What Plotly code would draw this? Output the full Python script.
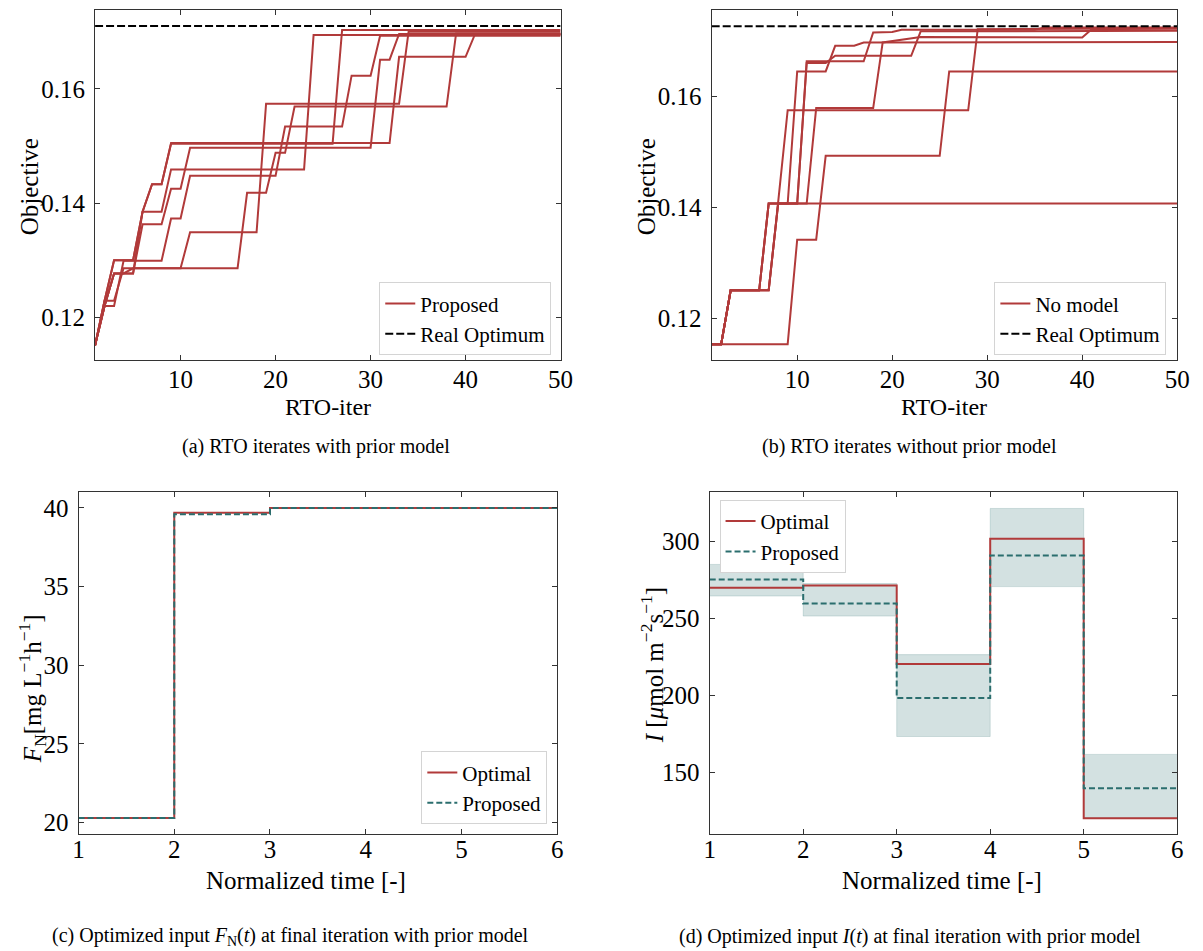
import plotly.graph_objects as go

# ---------------- data ----------------
# (a) RTO iterates with prior model: vertices (iteration, best objective) of each run
a1_iter = [1, 2, 3, 4, 5, 16, 17, 19, 20, 21, 22, 38, 39, 50]
a1_obj = [.1151, .1220, .1277, .1277, .1286, .1286, .1418, .1418, .1488, .1488, .1569, .1569, .1697, .1697]
a2_iter = [1, 2, 3, 4, 10, 11, 18, 19, 33, 34, 50]
a2_obj = [.1151, .1229, .1229, .1286, .1286, .1349, .1349, .1574, .1574, .1700, .1700]
a3_iter = [1, 2, 3, 5, 6, 8, 9, 23, 24, 50]
a3_obj = [.1151, .1229, .1300, .1300, .1385, .1385, .1459, .1459, .1694, .1694]
a4_iter = [1, 2, 3, 4, 8, 9, 10, 11, 20, 21, 27, 28, 30, 31, 50]
a4_obj = [.1151, .1220, .1220, .1299, .1299, .1373, .1373, .1448, .1448, .1534, .1534, .1623, .1623, .1693, .1693]
a5_iter = [1, 2, 3, 5, 6, 7, 8, 9, 26, 27, 50]
a5_obj = [.1151, .1229, .1300, .1300, .1385, .1433, .1433, .1504, .1504, .1703, .1703]
a6_iter = [1, 2, 3, 5, 6, 7, 8, 9, 32, 33, 40, 41, 50]
a6_obj = [.1151, .1220, .1277, .1277, .1385, .1433, .1433, .1505, .1505, .1656, .1656, .1696, .1696]
a7_iter = [1, 2, 3, 5, 6, 8, 9, 10, 11, 30, 31, 32, 33, 50]
a7_obj = [.1151, .1220, .1277, .1277, .1363, .1363, .1425, .1425, .1497, .1497, .1651, .1651, .1696, .1696]
a_real_opt = 0.1710

# (b) RTO iterates without prior model
b1_iter = [1, 2, 3, 6, 7, 50]
b1_obj = [.1154, .1154, .1251, .1251, .1407, .1407]
b2_iter = [1, 2, 3, 7, 8, 9, 28, 29, 50]
b2_obj = [.1154, .1154, .1251, .1251, .1410, .1575, .1575, .1721, .1722]
b3_iter = [1, 9, 10, 12, 13, 25, 26, 50]
b3_obj = [.1154, .1154, .1342, .1342, .1493, .1493, .1645, .1645]
b4_iter = [1, 2, 3, 6, 7, 9, 10, 13, 14, 16, 17, 50]
b4_obj = [.1154, .1154, .1251, .1251, .1407, .1407, .1645, .1645, .1691, .1691, .1697, .1698]
b5_iter = [1, 2, 3, 7, 8, 11, 12, 18, 19, 23, 40, 41, 50]
b5_obj = [.1154, .1154, .1251, .1251, .1407, .1407, .1579, .1579, .1697, .1707, .1706, .1721, .1722]
b6_iter = [1, 2, 3, 6, 7, 10, 11, 17, 18, 20, 21, 35, 36, 50]
b6_obj = [.1154, .1154, .1251, .1251, .1407, .1407, .1663, .1663, .1715, .1716, .1720, .1720, .1724, .1724]
b7_iter = [1, 2, 3, 7, 8, 10, 11, 13, 14, 22, 23, 50]
b7_obj = [.1154, .1154, .1251, .1251, .1407, .1407, .1660, .1660, .1673, .1673, .1717, .1718]
b_real_opt = 0.1726

# (c) optimized input F_N(t)
time_grid = [1, 2, 3, 4, 5, 6]
c_optimal = [20.3, 39.7, 40.0, 40.0, 40.0]
c_proposed = [20.3, 39.6, 40.0, 40.0, 40.0]

# (d) optimized input I(t)
d_optimal = [269.8, 271.3, 220.3, 301.5, 120.3]
d_proposed = [275.1, 259.5, 198.3, 290.7, 139.7]
d_lower = [264.4, 251.4, 173.3, 270.5, 120.5]
d_upper = [284.9, 272.5, 226.4, 321.2, 161.7]

# ---------------- style ----------------
W, H = 1203, 951
RED = "#b13a3a"
TEAL = "#2b6e6e"
BAND = "rgba(47,111,111,0.21)"
FONT = "Liberation Serif, Times New Roman, serif"
TICK = 25


def dx(px):
    return px / W


def dy(py):
    return 1 - py / H


fig = go.Figure()

runs_a = [(a1_iter, a1_obj), (a2_iter, a2_obj), (a3_iter, a3_obj), (a4_iter, a4_obj),
          (a5_iter, a5_obj), (a6_iter, a6_obj), (a7_iter, a7_obj)]
for i, (xs, ys) in enumerate(runs_a):
    fig.add_trace(go.Scatter(x=xs, y=ys, mode="lines", line=dict(color=RED, width=2),
                             name="Proposed", showlegend=(i == 0), legendgroup="pa",
                             xaxis="x", yaxis="y", legend="legend"))
fig.add_trace(go.Scatter(x=[1, 50], y=[a_real_opt, a_real_opt], mode="lines",
                         line=dict(color="black", width=2, dash="8px,3px"),
                         name="Real Optimum", xaxis="x", yaxis="y", legend="legend"))

runs_b = [(b1_iter, b1_obj), (b2_iter, b2_obj), (b3_iter, b3_obj), (b4_iter, b4_obj),
          (b5_iter, b5_obj), (b6_iter, b6_obj), (b7_iter, b7_obj)]
for i, (xs, ys) in enumerate(runs_b):
    fig.add_trace(go.Scatter(x=xs, y=ys, mode="lines", line=dict(color=RED, width=2),
                             name="No model", showlegend=(i == 0), legendgroup="pb",
                             xaxis="x2", yaxis="y2", legend="legend2"))
fig.add_trace(go.Scatter(x=[1, 50], y=[b_real_opt, b_real_opt], mode="lines",
                         line=dict(color="black", width=2, dash="8px,3px"),
                         name="Real Optimum", xaxis="x2", yaxis="y2", legend="legend2"))


def stepy(v):
    return list(v) + [v[-1]]


fig.add_trace(go.Scatter(x=time_grid, y=stepy(c_optimal), mode="lines", line_shape="hv",
                         line=dict(color=RED, width=2), name="Optimal",
                         xaxis="x3", yaxis="y3", legend="legend3"))
fig.add_trace(go.Scatter(x=time_grid, y=stepy(c_proposed), mode="lines", line_shape="hv",
                         line=dict(color=TEAL, width=2, dash="6px,3px"), name="Proposed",
                         xaxis="x3", yaxis="y3", legend="legend3"))

fig.add_trace(go.Scatter(x=time_grid, y=stepy(d_lower), mode="lines", line_shape="hv",
                         line=dict(color="rgba(47,111,111,0.18)", width=1), showlegend=False,
                         xaxis="x4", yaxis="y4", hoverinfo="skip"))
fig.add_trace(go.Scatter(x=time_grid, y=stepy(d_upper), mode="lines", line_shape="hv",
                         line=dict(color="rgba(47,111,111,0.18)", width=1), fill="tonexty",
                         fillcolor=BAND, showlegend=False,
                         xaxis="x4", yaxis="y4", hoverinfo="skip"))
fig.add_trace(go.Scatter(x=time_grid, y=stepy(d_optimal), mode="lines", line_shape="hv",
                         line=dict(color=RED, width=2), name="Optimal",
                         xaxis="x4", yaxis="y4", legend="legend4"))
fig.add_trace(go.Scatter(x=time_grid, y=stepy(d_proposed), mode="lines", line_shape="hv",
                         line=dict(color=TEAL, width=2, dash="6px,3px"), name="Proposed",
                         xaxis="x4", yaxis="y4", legend="legend4"))

axis_common = dict(showgrid=False, zeroline=False, ticks="inside", ticklen=5, tickwidth=1,
                   tickcolor="#333", showline=True, linecolor="#333", linewidth=1.2,
                   mirror="ticks", tickfont=dict(family=FONT, size=TICK, color="black"))

legend_common = dict(bgcolor="white", bordercolor="#d4d4d4", borderwidth=1,
                     font=dict(family=FONT, size=21, color="black"), tracegroupgap=0)

fig.update_layout(
    width=W, height=H, margin=dict(l=0, r=0, t=0, b=0),
    paper_bgcolor="white", plot_bgcolor="white",
    xaxis=dict(domain=[dx(90.5), dx(563.5)], range=[1, 50], tickvals=[10, 20, 30, 40, 50],
               anchor="y", ticklabelstandoff=-3, **axis_common),
    yaxis=dict(domain=[dy(361), dy(10)], range=[0.1125, 0.1738], tickvals=[0.12, 0.14, 0.16],
               ticktext=["0.12", "0.14", "0.16"], anchor="x", ticklabelstandoff=4, **axis_common),
    xaxis2=dict(domain=[dx(717), dx(1190)], range=[1, 50], tickvals=[10, 20, 30, 40, 50],
                anchor="y2", ticklabelstandoff=-3, **axis_common),
    yaxis2=dict(domain=[dy(361), dy(10.5)], range=[0.11251, 0.17546], tickvals=[0.12, 0.14, 0.16],
                ticktext=["0.12", "0.14", "0.16"], anchor="x2", ticklabelstandoff=4, **axis_common),
    xaxis3=dict(domain=[dx(73.7), dx(560)], range=[1, 6], tickvals=[1, 2, 3, 4, 5, 6],
                anchor="y3", ticklabelstandoff=-7, **axis_common),
    yaxis3=dict(domain=[dy(835.7), dy(493.3)], range=[19.28, 41.0], tickvals=[20, 25, 30, 35, 40],
                anchor="x3", ticklabelstandoff=4, **axis_common),
    xaxis4=dict(domain=[dx(715), dx(1190)], range=[1, 6], tickvals=[1, 2, 3, 4, 5, 6],
                anchor="y4", ticklabelstandoff=-7, **axis_common),
    yaxis4=dict(domain=[dy(835.7), dy(493.3)], range=[110.1, 331.7], tickvals=[150, 200, 250, 300],
                anchor="x4", ticklabelstandoff=4, **axis_common),
    legend=dict(x=dx(554), y=dy(356), xanchor="right", yanchor="bottom", **legend_common),
    legend2=dict(x=dx(1179), y=dy(356), xanchor="right", yanchor="bottom", **legend_common),
    legend3=dict(x=dx(550), y=dy(826), xanchor="right", yanchor="bottom", **legend_common),
    legend4=dict(x=dx(725), y=dy(501), xanchor="left", yanchor="top", **legend_common),
    showlegend=True,
)


def ann(text, px, py, size=24, angle=0):
    fig.add_annotation(text=text, x=dx(px), y=dy(py), xref="paper", yref="paper",
                       showarrow=False, textangle=angle, xanchor="center", yanchor="middle",
                       font=dict(family=FONT, size=size, color="black"))


ann("Objective", 24, 187, size=25, angle=-90)
ann("Objective", 651, 187, size=25, angle=-90)
ann("RTO-iter", 327, 408, size=24)
ann("RTO-iter", 953, 408, size=24)
ann("(a) RTO iterates with prior model", 315, 447, size=20)
ann("(b) RTO iterates without prior model", 918, 447, size=20)
ann("<i>F</i><sub>N</sub>[mg L<sup>−1</sup>h<sup>−1</sup>]", 26, 690, size=25, angle=-90)
ann("<i>I</i> [<i>μ</i>mol m<sup>−2</sup>s<sup>−1</sup>]", 656, 667, size=25, angle=-90)
ann("Normalized time [-]", 305, 882, size=25)
ann("Normalized time [-]", 951, 882, size=25)
ann("(c) Optimized input <i>F</i><sub>N</sub>(<i>t</i>) at final iteration with prior model", 289, 938, size=20)
ann("(d) Optimized input <i>I</i>(<i>t</i>) at final iteration with prior model", 918, 938, size=20)

fig.write_html("out.html", config={"displayModeBar": False, "responsive": False},
               post_script="document.body.style.margin='0';document.body.style.overflow='hidden';")
